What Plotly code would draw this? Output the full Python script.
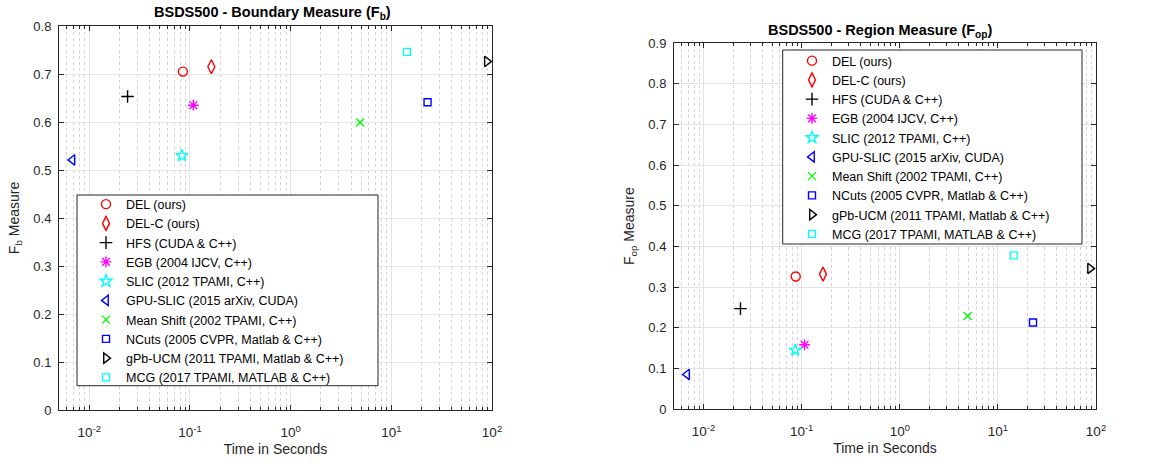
import plotly.graph_objects as go
import numpy as np

methods = ["DEL (ours)", "DEL-C (ours)", "HFS (CUDA & C++)", "EGB (2004 IJCV, C++)",
           "SLIC (2012 TPAMI, C++)", "GPU-SLIC (2015 arXiv, CUDA)",
           "Mean Shift (2002 TPAMI, C++)", "NCuts (2005 CVPR, Matlab & C++)",
           "gPb-UCM (2011 TPAMI, Matlab & C++)", "MCG (2017 TPAMI, MATLAB & C++)"]
time_fb = [0.085, 0.163, 0.024, 0.108, 0.083, 0.0068, 4.9, 22.9, 89, 14.3]
fb = [0.705, 0.715, 0.653, 0.635, 0.530, 0.521, 0.599, 0.641, 0.726, 0.746]
time_fop = [0.087, 0.165, 0.0238, 0.107, 0.086, 0.0068, 4.9, 22.8, 87, 14.5]
fop = [0.326, 0.332, 0.247, 0.158, 0.145, 0.085, 0.229, 0.213, 0.346, 0.378]
x_tick_vals = [0.01, 0.1, 1, 10, 100]
x_tick_text = ["10<sup>-2</sup>", "10<sup>-1</sup>", "10<sup>0</sup>", "10<sup>1</sup>", "10<sup>2</sup>"]

symbols = ["circle-open", "diamond-tall-open", "cross-thin-open", "asterisk-open",
           "star-open", "triangle-left-open", "x-thin-open", "square-open",
           "triangle-right-open", "square-open"]
colors = ["#ff0000", "#ff0000", "#000000", "#ff00ff", "#00ffff", "#0000ff",
          "#00ff00", "#0000ff", "#000000", "#00ffff"]
sizes = [9, 10, 9, 9, 9, 9, 8, 7, 9, 7]

W, H = 1163, 464
FONT = "Liberation Sans, Arial, Helvetica, sans-serif"
AX = "#262626"

fig = go.Figure()
for i, m in enumerate(methods):
    mk = dict(symbol=symbols[i], color=colors[i], size=sizes[i],
              line=dict(color=colors[i], width=1.4))
    fig.add_trace(go.Scatter(x=[time_fb[i]], y=[fb[i]], mode="markers", name=m,
                             marker=mk, xaxis="x", yaxis="y", legend="legend"))
    fig.add_trace(go.Scatter(x=[time_fop[i]], y=[fop[i]], mode="markers", name=m,
                             marker=mk, xaxis="x2", yaxis="y2", legend="legend2"))


def px_x(p):
    return p / W


def px_y(p):
    return 1 - p / H


xcommon = dict(type="log", range=[np.log10(0.005), 2],
               tickmode="array", tickvals=x_tick_vals, ticktext=x_tick_text,
               showline=True, linecolor=AX, linewidth=1, mirror="allticks",
               ticks="inside", ticklen=5, tickcolor=AX, automargin=False,
               ticklabelstandoff=10,
               showgrid=True, gridcolor="#e3e3e3", gridwidth=1,
               tickfont=dict(family=FONT, size=13.5, color=AX),
               minor=dict(dtick="D1", ticks="inside", ticklen=3, tickcolor=AX,
                          showgrid=True, gridcolor="#d4d4d4", griddash="dot", gridwidth=1),
               zeroline=False, title=dict(text="Time in Seconds",
                                          font=dict(family=FONT, size=14, color=AX),
                                          standoff=4))
ycommon = dict(showline=True, linecolor=AX, linewidth=1, mirror="allticks",
               ticks="inside", ticklen=5, tickcolor=AX, dtick=0.1, automargin=False,
               ticklabelstandoff=4,
               showgrid=True, gridcolor="#e3e3e3", gridwidth=1, zeroline=False,
               tickfont=dict(family=FONT, size=13, color=AX))

fig.update_layout(
    width=W, height=H,
    margin=dict(l=0, r=0, t=0, b=0),
    paper_bgcolor="white", plot_bgcolor="white",
    font=dict(family=FONT, color=AX),
    xaxis=dict(domain=[px_x(59), px_x(492)], anchor="y", **xcommon),
    yaxis=dict(domain=[px_y(410), px_y(26)], anchor="x", range=[0, 0.8],
               title=dict(text="F<sub>b</sub> Measure", font=dict(family=FONT, size=14, color=AX), standoff=10),
               **ycommon),
    xaxis2=dict(domain=[px_x(674), px_x(1096)], anchor="y2", **xcommon),
    yaxis2=dict(domain=[px_y(409), px_y(43.3)], anchor="x2", range=[0, 0.9],
                title=dict(text="F<sub>op</sub> Measure", font=dict(family=FONT, size=14, color=AX), standoff=10),
                **ycommon),
    legend=dict(x=px_x(86), y=px_y(189.5), xanchor="left", yanchor="top",
                bgcolor="rgba(0,0,0,0)", borderwidth=0,
                font=dict(family=FONT, size=12.5, color="#000000")),
    legend2=dict(x=px_x(792), y=px_y(46), xanchor="left", yanchor="top",
                 bgcolor="rgba(0,0,0,0)", borderwidth=0,
                 font=dict(family=FONT, size=12.5, color="#000000")),
    shapes=[
        dict(type="rect", xref="paper", yref="paper", layer="above",
             x0=px_x(77), x1=px_x(378), y0=px_y(385.7), y1=px_y(195),
             fillcolor="white", line=dict(color="#262626", width=1)),
        dict(type="rect", xref="paper", yref="paper", layer="above",
             x0=px_x(782.7), x1=px_x(1082), y0=px_y(244), y1=px_y(50),
             fillcolor="white", line=dict(color="#262626", width=1)),
    ],
    annotations=[
        dict(text="<b>BSDS500 - Boundary Measure (F<sub>b</sub>)</b>", xref="paper", yref="paper",
             x=px_x(272), y=px_y(13), xanchor="center", yanchor="middle", showarrow=False,
             font=dict(family=FONT, size=14.5, color="#000000")),
        dict(text="<b>BSDS500 - Region Measure (F<sub>op</sub>)</b>", xref="paper", yref="paper",
             x=px_x(880), y=px_y(31), xanchor="center", yanchor="middle", showarrow=False,
             font=dict(family=FONT, size=14.5, color="#000000")),
    ],
)

fig.write_html("out.html", config={"displayModeBar": False},
               post_script="document.body.style.margin='0px';document.body.style.overflow='hidden';")
